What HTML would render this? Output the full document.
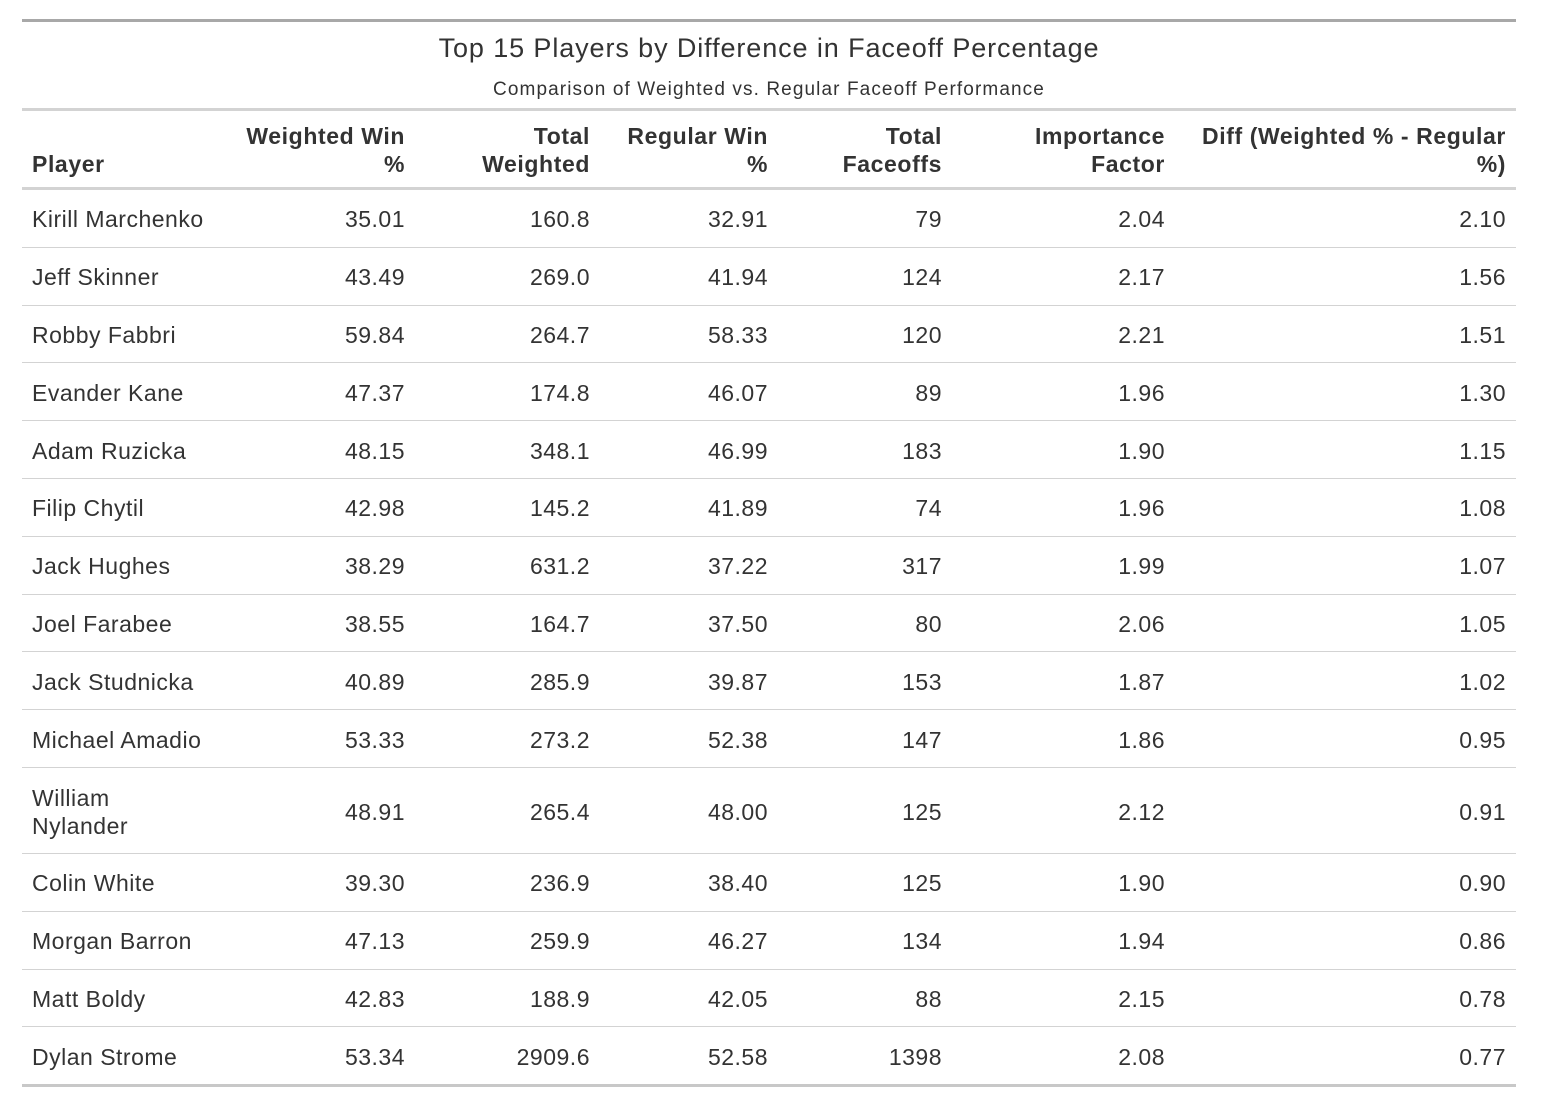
<!DOCTYPE html>
<html><head><meta charset="utf-8"><style>
body{margin:0;width:1542px;height:1110px;background:#fff;font-family:"Liberation Sans",sans-serif;color:#333;position:relative;overflow:hidden}
.abs{position:absolute}
.hl{position:absolute;left:22px;width:1494px;background:#d3d3d3}
.title{left:22px;width:1494px;text-align:center;white-space:nowrap}
.cell{position:absolute;font-size:23px;letter-spacing:0.5px;display:flex;align-items:center;box-sizing:border-box;padding:0 10px}
.r{justify-content:flex-end;text-align:right}
.h{font-weight:bold;align-items:flex-end;padding-bottom:10px;line-height:28px;letter-spacing:0.6px}
</style></head><body>
<div class="hl" style="top:19px;height:3px;background:#a8a8a8"></div>
<div class="abs title" style="top:33px;font-size:27px;letter-spacing:0.9px">Top 15 Players by Difference in Faceoff Percentage</div>
<div class="abs title" style="top:79px;font-size:19px;letter-spacing:1.1px">Comparison of Weighted vs. Regular Faceoff Performance</div>
<div class="hl" style="top:108px;height:3px"></div>
<div id="t"></div>
<script>
const cols=[22,235,415,600,778,952,1175,1516];
const headers=["Player","Weighted Win<br>%","Total<br>Weighted","Regular Win<br>%","Total<br>Faceoffs","Importance<br>Factor","Diff (Weighted % - Regular<br>%)"];
const players=["Kirill Marchenko","Jeff Skinner","Robby Fabbri","Evander Kane","Adam Ruzicka","Filip Chytil","Jack Hughes","Joel Farabee","Jack Studnicka","Michael Amadio","William Nylander","Colin White","Morgan Barron","Matt Boldy","Dylan Strome"];
const weightedWin=["35.01","43.49","59.84","47.37","48.15","42.98","38.29","38.55","40.89","53.33","48.91","39.30","47.13","42.83","53.34"];
const totalWeighted=["160.8","269.0","264.7","174.8","348.1","145.2","631.2","164.7","285.9","273.2","265.4","236.9","259.9","188.9","2909.6"];
const regularWin=["32.91","41.94","58.33","46.07","46.99","41.89","37.22","37.50","39.87","52.38","48.00","38.40","46.27","42.05","52.58"];
const totalFaceoffs=["79","124","120","89","183","74","317","80","153","147","125","125","134","88","1398"];
const importance=["2.04","2.17","2.21","1.96","1.90","1.96","1.99","2.06","1.87","1.86","2.12","1.90","1.94","2.15","2.08"];
const diff=["2.10","1.56","1.51","1.30","1.15","1.08","1.07","1.05","1.02","0.95","0.91","0.90","0.86","0.78","0.77"];
const t=document.getElementById('t');
function cell(txt,ci,top,h,cls){const d=document.createElement('div');d.className='cell '+cls+(ci>0?' r':'');
d.style.left=cols[ci]+'px';d.style.width=(cols[ci+1]-cols[ci])+'px';d.style.top=top+'px';d.style.height=h+'px';d.textContent=txt;t.appendChild(d);return d;}
headers.forEach((h,i)=>{const d=cell('',i,111,77,'h');d.innerHTML=h;

});
const hb=document.createElement('div');hb.className='hl';hb.style.top='187px';hb.style.height='3px';


t.appendChild(hb);
let y=191;
players.forEach((p,i)=>{const h=(i==10)?86:57.8;
const vals=[p,weightedWin[i],totalWeighted[i],regularWin[i],totalFaceoffs[i],importance[i],diff[i]];
vals.forEach((v,ci)=>{const d=cell(v,ci,y,h,'');if(ci==0&&i==10){d.innerHTML='William<br>Nylander';d.style.lineHeight='28px';}

});
y+=h;
const b=document.createElement('div');b.className='hl';b.style.top=(y-2)+'px';b.style.height=(i==14?'3px':'1px');
if(i==14)b.style.background='#c8c8c8';


t.appendChild(b);});
</script>
</body></html>
